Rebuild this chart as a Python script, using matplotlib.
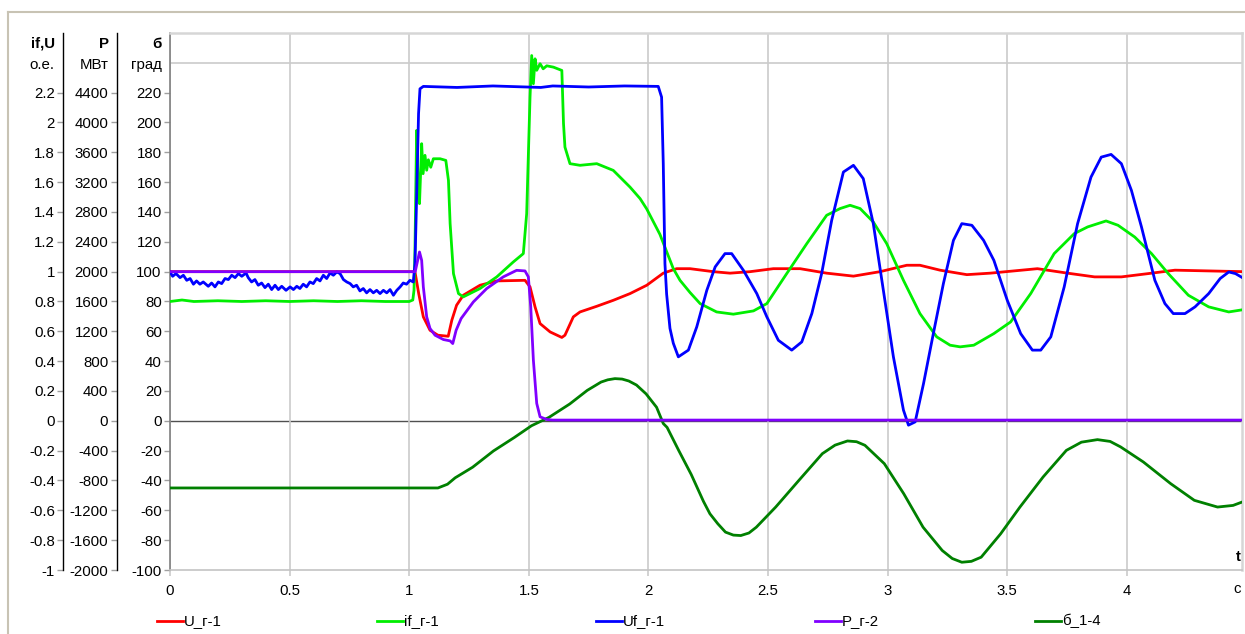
import numpy as np
import matplotlib
matplotlib.use("Agg")
import matplotlib.pyplot as plt
from matplotlib.lines import Line2D

plt.rcParams['font.family'] = ['Liberation Sans', 'DejaVu Sans']

# ---------------- data ----------------
# U_г-1 (o.e.)
u_t = [0, 1.024, 1.04, 1.059, 1.087, 1.12, 1.163, 1.178, 1.198, 1.226, 1.296, 1.366, 1.484, 1.505,
       1.526, 1.547, 1.589, 1.638, 1.651, 1.686, 1.714, 1.784, 1.853, 1.923, 1.993, 2.062, 2.118,
       2.174, 2.271, 2.341, 2.425, 2.522, 2.634, 2.745, 2.857, 2.968, 3.08, 3.135, 3.219, 3.331,
       3.429, 3.626, 3.752, 3.865, 3.977, 4.089, 4.201, 4.342, 4.489]
u_v = [1.0, 1.0, 0.85, 0.697, 0.607, 0.574, 0.567, 0.674, 0.775, 0.842, 0.909, 0.938, 0.942, 0.898,
       0.764, 0.652, 0.596, 0.559, 0.574, 0.697, 0.73, 0.768, 0.808, 0.853, 0.909, 0.99, 1.02,
       1.02, 1.0, 0.99, 1.0, 1.02, 1.02, 0.99, 0.97, 1.0, 1.043, 1.043, 1.01, 0.98,
       0.99, 1.02, 0.99, 0.965, 0.965, 0.987, 1.01, 1.005, 1.0]

# if_г-1 (o.e.)
if_t = [0, 0.05, 0.1, 0.2, 0.3, 0.4, 0.5, 0.6, 0.7, 0.8, 0.9, 1.0, 1.015, 1.02, 1.024, 1.031, 1.037,
        1.043, 1.052, 1.058, 1.066, 1.073, 1.08, 1.09, 1.101, 1.129, 1.153, 1.164, 1.171, 1.185,
        1.206, 1.226, 1.296, 1.366, 1.435, 1.477, 1.491, 1.505, 1.512, 1.519, 1.526, 1.533, 1.547,
        1.56, 1.575, 1.603, 1.638, 1.645, 1.651, 1.672, 1.714, 1.784, 1.853, 1.923, 1.965, 1.993,
        2.048, 2.104, 2.132, 2.174, 2.216, 2.285, 2.355, 2.439, 2.495, 2.578, 2.662, 2.745, 2.801,
        2.843, 2.885, 2.94, 2.996, 3.066, 3.135, 3.205, 3.261, 3.303, 3.36, 3.444, 3.514, 3.598,
        3.696, 3.78, 3.836, 3.913, 3.963, 4.033, 4.103, 4.173, 4.257, 4.342, 4.426, 4.489]
if_v = [0.80, 0.81, 0.80, 0.805, 0.80, 0.805, 0.80, 0.805, 0.80, 0.805, 0.80, 0.80, 0.81, 0.875, 1.143,
        1.947, 1.6, 1.456, 1.858, 1.657, 1.78, 1.68, 1.75, 1.70, 1.757, 1.757, 1.746, 1.612, 1.322,
        0.987, 0.853, 0.831, 0.887, 0.965, 1.065, 1.121, 1.389, 2.17, 2.449, 2.26, 2.427, 2.35,
        2.394, 2.36, 2.38, 2.371, 2.349, 1.992, 1.835, 1.724, 1.713, 1.724, 1.679, 1.567, 1.49,
        1.42, 1.25, 1.02, 0.942, 0.86, 0.786, 0.73, 0.715, 0.737, 0.786, 0.987, 1.188, 1.378,
        1.423, 1.445, 1.423, 1.333, 1.188, 0.942, 0.719, 0.563, 0.507, 0.496, 0.507, 0.585, 0.663,
        0.853, 1.121, 1.255, 1.3, 1.34, 1.311, 1.232, 1.121, 0.987, 0.842, 0.764, 0.73, 0.746]

# Uf_г-1 (o.e.)
uf_t = [0, 0.011, 0.025, 0.042, 0.056, 0.070, 0.084, 0.098, 0.111, 0.125, 0.139, 0.160, 0.174, 0.188,
        0.202, 0.216, 0.230, 0.244, 0.258, 0.272, 0.286, 0.300, 0.318, 0.327, 0.341, 0.355, 0.369,
        0.383, 0.397, 0.411, 0.425, 0.439, 0.453, 0.467, 0.485, 0.502, 0.516, 0.530, 0.543, 0.557,
        0.571, 0.585, 0.599, 0.613, 0.627, 0.641, 0.655, 0.669, 0.683, 0.697, 0.711, 0.725, 0.739,
        0.753, 0.766, 0.780, 0.794, 0.808, 0.822, 0.836, 0.850, 0.864, 0.878, 0.892, 0.906, 0.920,
        0.934, 0.948, 0.962, 0.975, 0.989, 1.003, 1.017,
        1.024, 1.031, 1.039, 1.045, 1.059, 1.2, 1.35, 1.5, 1.55, 1.6, 1.75, 1.9, 2.041, 2.055,
        2.062, 2.069, 2.076, 2.09, 2.104, 2.125, 2.167, 2.202, 2.244, 2.279, 2.32, 2.348, 2.397,
        2.453, 2.495, 2.543, 2.599, 2.641, 2.683, 2.724, 2.766, 2.815, 2.857, 2.898, 2.94, 2.982,
        3.024, 3.066, 3.087, 3.115, 3.15, 3.191, 3.233, 3.275, 3.31, 3.352, 3.401, 3.444, 3.5,
        3.556, 3.605, 3.64, 3.682, 3.738, 3.794, 3.85, 3.893, 3.934, 3.977, 4.019, 4.061, 4.117,
        4.159, 4.194, 4.243, 4.285, 4.342, 4.39, 4.426, 4.454, 4.489]
uf_v = [0.998, 0.969, 0.987, 0.960, 0.976, 0.942, 0.954, 0.916, 0.938, 0.916, 0.931, 0.902, 0.924, 0.898,
        0.931, 0.920, 0.954, 0.947, 0.976, 0.960, 0.987, 0.969, 0.991, 0.960, 0.931, 0.947, 0.909,
        0.924, 0.893, 0.916, 0.880, 0.909, 0.880, 0.902, 0.875, 0.898, 0.880, 0.902, 0.887, 0.916,
        0.898, 0.931, 0.920, 0.954, 0.938, 0.976, 0.954, 0.991, 0.976, 0.998, 0.987, 0.947, 0.931,
        0.920, 0.898, 0.909, 0.871, 0.887, 0.858, 0.880, 0.858, 0.875, 0.853, 0.875, 0.858, 0.880,
        0.842, 0.875, 0.898, 0.924, 0.916, 0.942, 0.931,
        1.054, 1.5, 2.059, 2.226, 2.242, 2.235, 2.245, 2.238, 2.235, 2.245, 2.238, 2.245, 2.242, 2.17,
        1.724, 1.054, 0.85, 0.62, 0.52, 0.429, 0.474, 0.63, 0.875, 1.032, 1.121, 1.121, 1.009,
        0.853, 0.697, 0.54, 0.474, 0.529, 0.719, 0.987, 1.344, 1.668, 1.713, 1.624, 1.322, 0.875,
        0.429, 0.072, -0.029, -0.007, 0.25, 0.585, 0.92, 1.21, 1.322, 1.311, 1.21, 1.076, 0.808,
        0.585, 0.474, 0.474, 0.563, 0.898, 1.322, 1.634, 1.768, 1.786, 1.724, 1.545, 1.3, 0.942,
        0.786, 0.719, 0.719, 0.764, 0.853, 0.954, 0.998, 0.987, 0.954]

# P_г-2 (MW)
p_t = [0, 1.025, 1.043, 1.052, 1.059, 1.073, 1.087, 1.108, 1.143, 1.171, 1.182, 1.196, 1.217, 1.268,
       1.324, 1.393, 1.449, 1.484, 1.498, 1.508, 1.519, 1.533, 1.547, 1.575, 1.6, 2.0, 3.0, 4.489]
p_v = [2000, 2000, 2264, 2152, 1796, 1394, 1238, 1148, 1090, 1072, 1036, 1214, 1372, 1594,
       1774, 1930, 2018, 2010, 1930, 1528, 814, 234, 54, 18, 10, 10, 10, 10]

# б_1-4 (deg)
d_t = [0, 0.5, 1.0, 1.12, 1.16, 1.192, 1.265, 1.352, 1.439, 1.511, 1.584, 1.671, 1.744, 1.802, 1.83,
       1.86, 1.89, 1.918, 1.95, 1.99, 2.034, 2.062, 2.078, 2.127, 2.179, 2.23, 2.257, 2.29, 2.322,
       2.355, 2.386, 2.42, 2.451, 2.532, 2.629, 2.727, 2.78, 2.832, 2.87, 2.905, 2.986, 3.067,
       3.148, 3.228, 3.27, 3.31, 3.35, 3.391, 3.472, 3.553, 3.65, 3.747, 3.81, 3.877, 3.93, 3.974,
       4.069, 4.183, 4.282, 4.379, 4.444, 4.489]
d_v = [-45, -45, -45, -45, -42.5, -38.2, -31.1, -20.2, -11.2, -3.3, 2.3, 11.3, 20.4, 26, 27.5,
       28.3, 28, 26.7, 24, 18.1, 9.1, -1.8, -4.4, -20, -36, -54, -62.3, -69, -74.6,
       -76.6, -76.9, -75.2, -71.3, -57.8, -39.9, -22, -16.3, -13.5, -14, -16.4, -28.7, -48.8,
       -71.3, -86.9, -92.3, -94.8, -94.2, -91.4, -75.8, -57.8, -37.6, -19.8, -14.3, -12.6, -13.8, -17.5,
       -27.6, -42.1, -53.3, -57.8, -56.7, -54]

x_ticks = [0, 0.5, 1, 1.5, 2, 2.5, 3, 3.5, 4]
oe_ticks = [-1, -0.8, -0.6, -0.4, -0.2, 0, 0.2, 0.4, 0.6, 0.8, 1, 1.2, 1.4, 1.6, 1.8, 2, 2.2]
p_ticks = [-2000, -1600, -1200, -800, -400, 0, 400, 800, 1200, 1600, 2000, 2400, 2800, 3200, 3600, 4000, 4400]
d_ticks = [-100, -80, -60, -40, -20, 0, 20, 40, 60, 80, 100, 120, 140, 160, 180, 200, 220]
legend_labels = ['U_г-1', 'if_г-1', 'Uf_г-1', 'P_г-2', 'б_1-4']
colors = ['#ff0000', '#00ee00', '#0000ff', '#8000ff', '#008000']

# ---------------- layout ----------------
W, H = 1245, 634
fig = plt.figure(figsize=(W / 100, H / 100), dpi=100)
L, R, T, B = 170, 1241.7, 33, 570
ax = fig.add_axes([L / W, 1 - B / H, (R - L) / W, (B - T) / H])
FS = 10.8
grid_c = '#cbcbcb'

ax.set_xlim(0, 4.48)
ax.set_ylim(-100, 260)
ax.set_xticks(x_ticks)
ax.set_xticklabels(['{:g}'.format(v) for v in x_ticks], fontsize=FS)
ax.set_yticks(d_ticks)
ax.set_yticklabels(['{:g}'.format(v) for v in d_ticks], fontsize=FS)
ax.set_yticks(np.arange(-100, 261, 20), minor=True)
ax.grid(True, which='major', axis='x', color=grid_c, lw=1.2)
ax.grid(True, which='minor', axis='y', color=grid_c, lw=1.2)
ax.tick_params(axis='y', which='minor', length=0)
ax.tick_params(axis='y', which='major', direction='out', length=4, width=1, color='#a0a0a0', pad=2)
ax.tick_params(axis='x', direction='out', length=4, width=1.2, color=grid_c, pad=6)
ax.axhline(0, color='#505050', lw=1.0, zorder=1)
for s in ['top', 'right']:
    ax.spines[s].set_color('#d6d6d6')
    ax.spines[s].set_linewidth(1.8)
ax.spines['bottom'].set_color('#c4c4c4')
ax.spines['bottom'].set_linewidth(1.2)
ax.spines['left'].set_color('#808080')
ax.spines['left'].set_linewidth(1.2)

# o.e. axis
ax_oe = ax.twinx()
ax_oe.set_ylim(-1, 2.6)
# P axis
ax_p = ax.twinx()
ax_p.set_ylim(-2000, 5200)

for a, ticks, pos in [(ax_oe, oe_ticks, -(L - 63.3) / (R - L)), (ax_p, p_ticks, -(L - 116.7) / (R - L))]:
    a.spines['right'].set_visible(False)
    a.spines['top'].set_visible(False)
    a.spines['bottom'].set_visible(False)
    a.spines['left'].set_visible(True)
    a.spines['left'].set_position(('axes', pos))
    a.spines['left'].set_color('black')
    a.spines['left'].set_linewidth(1.0)
    a.yaxis.set_ticks_position('left')
    a.yaxis.set_label_position('left')
    a.set_yticks(ticks)
    a.set_yticklabels(['{:g}'.format(v) for v in ticks], fontsize=FS)
    a.tick_params(axis='y', direction='out', length=4, width=1, color='#a0a0a0', pad=2)

# lines (legend order)
ax.plot(d_t, d_v, color=colors[4], lw=2.0, zorder=3)
ax_oe.plot(u_t, u_v, color=colors[0], lw=2.0)
ax_oe.plot(if_t, if_v, color=colors[1], lw=2.0)
ax_oe.plot(uf_t, uf_v, color=colors[2], lw=2.0)
ax_p.plot(p_t, p_v, color=colors[3], lw=2.0)

# headers
def px(x, y, s, **kw):
    fig.text(x / W, 1 - y / H, s, fontsize=FS, **kw)

px(54.5, 44, 'if,U', ha='right', va='center', fontweight='bold')
px(54.5, 65, 'о.е.', ha='right', va='center')
px(108.5, 44, 'P', ha='right', va='center', fontweight='bold')
px(108.5, 65, 'МВт', ha='right', va='center')
px(161.5, 44, 'б', ha='right', va='center', fontweight='bold')
px(161.5, 65, 'град', ha='right', va='center')
px(1240.5, 557, 't', ha='right', va='center', fontweight='bold')
px(1241, 589, 'с', ha='right', va='center')

# legend
leg_x = [157, 377, 596, 815, 1035]
for x0, lab, c in zip(leg_x, legend_labels, colors):
    fig.add_artist(Line2D([x0 / W, (x0 + 26) / W], [1 - 621 / H] * 2, color=c, lw=2.0,
                          transform=fig.transFigure))
    px(x0 + 27, 621, lab, ha='left', va='center')

# outer frame lines
fc = '#c8c3b4'
fig.add_artist(Line2D([8 / W, 8 / W], [0, 1 - 12 / H], color=fc, lw=1.5, transform=fig.transFigure))
fig.add_artist(Line2D([8 / W, 1], [1 - 12 / H] * 2, color=fc, lw=1.5, transform=fig.transFigure))

fig.savefig('out.png', dpi=100)
